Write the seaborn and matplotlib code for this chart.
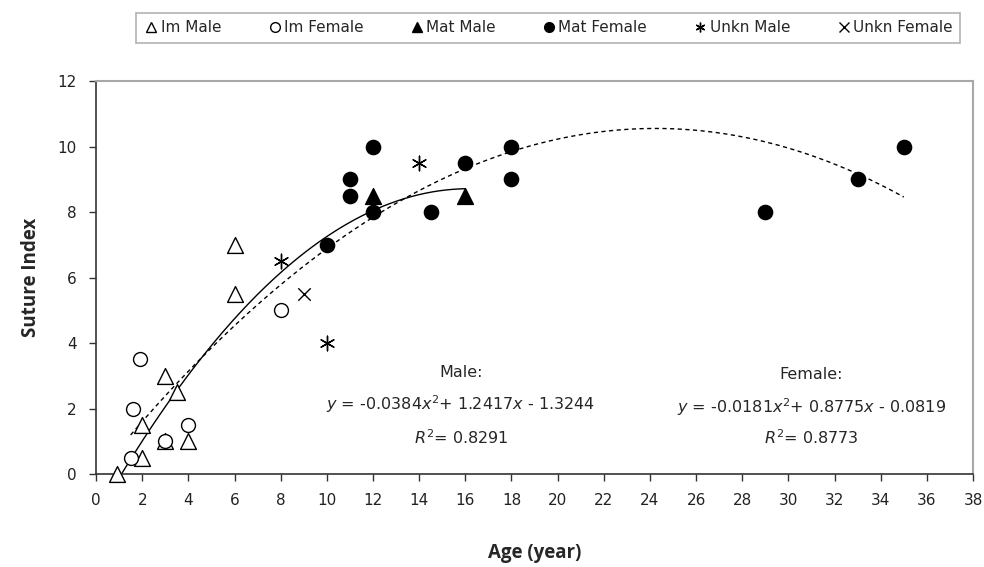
import numpy as np
import pandas as pd
import matplotlib
matplotlib.use("Agg")
import matplotlib.pyplot as plt
import seaborn as sns

sns.set_theme(style="white")
plt.rcParams['font.family'] = ['DejaVu Sans']
plt.rcParams['mathtext.fontset'] = 'dejavusans'

# ---- data ----
im_male_x = [0.9, 2, 2, 3, 3, 3.5, 4, 6, 6]
im_male_y = [0, 0.5, 1.5, 3, 1, 2.5, 1, 7, 5.5]
im_female_x = [1.5, 1.6, 1.9, 3, 4, 8]
im_female_y = [0.5, 2, 3.5, 1, 1.5, 5]
mat_male_x = [12, 16]
mat_male_y = [8.5, 8.5]
mat_female_x = [10, 11, 11, 12, 12, 14.5, 16, 18, 18, 29, 33, 35]
mat_female_y = [7, 9, 8.5, 10, 8, 8, 9.5, 10, 9, 8, 9, 10]
unkn_male_x = [8, 10, 14]
unkn_male_y = [6.5, 4, 9.5]
unkn_female_x = [9]
unkn_female_y = [5.5]

male_coef = [-0.0384, 1.2417, -1.3244]
male_range = [0.9, 16]
female_coef = [-0.0181, 0.8775, -0.0819]
female_range = [1.5, 35]

x_ticks = list(range(0, 39, 2))
y_ticks = list(range(0, 13, 2))

fig = plt.figure(figsize=(9.84, 5.67), dpi=100)
ax = fig.add_axes([0.0976, 0.164, 0.8913, 0.693])

# trendlines from the chart's printed equations
xm = np.linspace(male_range[0], male_range[1], 200)
xf = np.linspace(female_range[0], female_range[1], 300)
sns.lineplot(x=xm, y=np.polyval(male_coef, xm), ax=ax, color='black', lw=1.0, zorder=2)
sns.lineplot(x=xf, y=np.polyval(female_coef, xf), ax=ax, color='black', lw=1.0, zorder=2)
ax.lines[-1].set_dashes([3, 2.5])

groups = [
    ("Im Male", im_male_x, im_male_y, '^', 'white', 130),
    ("Im Female", im_female_x, im_female_y, 'o', 'white', 100),
    ("Mat Male", mat_male_x, mat_male_y, '^', 'black', 130),
    ("Mat Female", mat_female_x, mat_female_y, 'o', 'black', 105),
    ("Unkn Male", unkn_male_x, unkn_male_y, (6, 2, 0), 'black', 110),
    ("Unkn Female", unkn_female_x, unkn_female_y, 'x', 'black', 80),
]
handles = []
for name, gx, gy, mk, fc, s in groups:
    if fc == 'white':
        sns.scatterplot(x=gx, y=gy, ax=ax, marker=mk, s=s, facecolor='white',
                        edgecolor='black', linewidth=1.0, zorder=3, clip_on=False)
    else:
        sns.scatterplot(x=gx, y=gy, ax=ax, marker=mk, s=s, color='black',
                        edgecolor='black', linewidth=1.0, zorder=3, clip_on=False)
    h = plt.Line2D([], [], ls='none', marker=mk, markersize=7,
                   markerfacecolor=fc, markeredgecolor='black',
                   markeredgewidth=1.0, label=name)
    handles.append(h)

ax.set_xlim(0, 38)
ax.set_ylim(0, 12)
ax.set_xticks(x_ticks)
ax.set_yticks(y_ticks)
ax.tick_params(axis='both', which='both', direction='out', length=5, width=1,
               color='#333333', labelsize=11, labelcolor='#222222', pad=9,
               bottom=True, left=True)
for side in ['left', 'bottom']:
    ax.spines[side].set_color('#333333')
    ax.spines[side].set_linewidth(1.2)
for side in ['top', 'right']:
    ax.spines[side].set_color('#a8a8a8')
    ax.spines[side].set_linewidth(1.5)
ax.grid(False)

ax.set_xlabel("Age (year)", fontsize=13.5, fontweight='bold', family='Open Sans', labelpad=25)
ax.set_ylabel("Suture Index", fontsize=13.5, fontweight='bold', family='Open Sans', labelpad=12)

# annotations
ax.text(15.8, 3.1, "Male:", ha='center', va='center', fontsize=11.5)
ax.text(15.8, 2.12, r"$\it{y}$ = -0.0384$\it{x}^{2}$+ 1.2417$\it{x}$ - 1.3244",
        ha='center', va='center', fontsize=11.5)
ax.text(15.8, 1.12, r"$\it{R}^{2}$= 0.8291", ha='center', va='center', fontsize=11.5)
ax.text(31.0, 3.05, "Female:", ha='center', va='center', fontsize=11.5)
ax.text(31.0, 2.05, r"$\it{y}$ = -0.0181$\it{x}^{2}$+ 0.8775$\it{x}$ - 0.0819",
        ha='center', va='center', fontsize=11.5)
ax.text(31.0, 1.12, r"$\it{R}^{2}$= 0.8773", ha='center', va='center', fontsize=11.5)

leg = fig.legend(handles=handles, loc='center', bbox_to_anchor=(0.557, 0.951), ncol=6,
                 frameon=True, fancybox=False, edgecolor='#a0a0a0',
                 handletextpad=0.1, columnspacing=3.0, handlelength=1.0,
                 borderpad=0.5, prop={'family': 'DejaVu Sans', 'size': 11})
leg.get_frame().set_linewidth(1.2)

fig.savefig("out.png", dpi=100)
